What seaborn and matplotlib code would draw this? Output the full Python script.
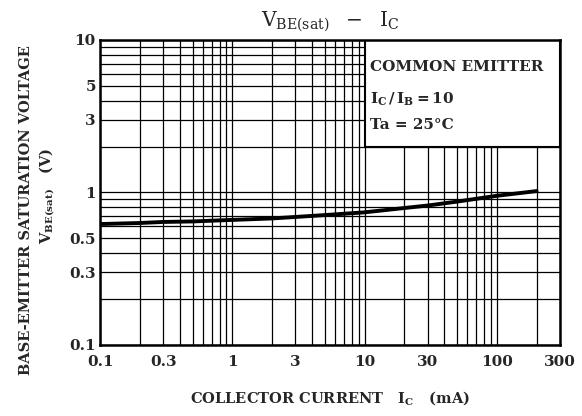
import seaborn as sns
import matplotlib.pyplot as plt
from matplotlib.patches import Rectangle
from matplotlib.ticker import FixedLocator, LogLocator, NullFormatter

# collector current (mA) and base-emitter saturation voltage (V)
ic_ma = [0.1, 0.2, 0.3, 0.5, 1, 2, 3, 5, 10, 20, 30, 50, 100, 200]
vbe_sat = [0.62, 0.63, 0.64, 0.645, 0.66, 0.675, 0.69, 0.71, 0.74, 0.79, 0.82, 0.87, 0.95, 1.02]

x_ticks = [0.1, 0.3, 1, 3, 10, 30, 100, 300]
x_labels = ['0.1', '0.3', '1', '3', '10', '30', '100', '300']
y_ticks = [0.1, 0.3, 0.5, 1, 3, 5, 10]
y_labels = ['0.1', '0.3', '0.5', '1', '3', '5', '10']

sns.set_style('white')
plt.rcParams['font.family'] = ['DejaVu Serif']
plt.rcParams['mathtext.fontset'] = 'dejavuserif'

fig = plt.figure(figsize=(5.82, 4.16), dpi=100)
ax = fig.add_axes([0.172, 0.171, 0.79, 0.733])

sns.lineplot(x=ic_ma, y=vbe_sat, ax=ax, color='black', linewidth=2.8, zorder=4)

ax.set_xscale('log')
ax.set_yscale('log')
ax.set_xlim(0.1, 300)
ax.set_ylim(0.1, 10)

# grid on every 1-2-3...9 line
ax.xaxis.set_major_locator(FixedLocator(x_ticks))
ax.yaxis.set_major_locator(FixedLocator(y_ticks))
ax.xaxis.set_minor_locator(LogLocator(base=10, subs=range(1, 10)))
ax.yaxis.set_minor_locator(LogLocator(base=10, subs=range(1, 10)))
ax.xaxis.set_minor_formatter(NullFormatter())
ax.yaxis.set_minor_formatter(NullFormatter())
ax.set_xticklabels(x_labels)
ax.set_yticklabels(y_labels)
ax.grid(which='both', color='black', linewidth=0.9)
ax.set_axisbelow(True)
ax.tick_params(which='both', length=0, labelsize=11)
ax.tick_params(axis='x', pad=7)
ax.tick_params(axis='y', pad=3)
for lab in ax.get_xticklabels() + ax.get_yticklabels():
    lab.set_fontweight('bold')
for sp in ax.spines.values():
    sp.set_color('black')
    sp.set_linewidth(1.8)
    sp.set_zorder(6)

# condition box in the upper right
ax.add_patch(Rectangle((10, 2), 290, 8, facecolor='white', edgecolor='black',
                       linewidth=1.5, zorder=3))
box_txt = dict(transform=ax.transData, fontsize=11, fontweight='bold', zorder=5,
               va='center', ha='left')
ax.text(10.9, 6.6, 'COMMON EMITTER', **box_txt)
ax.text(10.9, 4.1, r'$\mathregular{I_C\,/\,I_B = 10}$', **box_txt)
ax.text(10.9, 2.75, 'Ta = 25°C', **box_txt)

ax.set_title(r'$\mathregular{V_{BE(sat)}\ \ -\ \ I_C}$', fontsize=14.5, pad=10)
ax.set_xlabel(r'COLLECTOR CURRENT   $\mathregular{I_C}$   (mA)', fontsize=10.5,
              fontweight='bold', labelpad=15)
fig.text(0.045, 0.495, 'BASE-EMITTER SATURATION VOLTAGE', rotation=90,
         ha='center', va='center', fontsize=10.5, fontweight='bold')
fig.text(0.082, 0.53, r'$\mathregular{V_{BE(sat)}}$   (V)', rotation=90,
         ha='center', va='center', fontsize=10.5, fontweight='bold')

fig.savefig('out.png', dpi=100)
